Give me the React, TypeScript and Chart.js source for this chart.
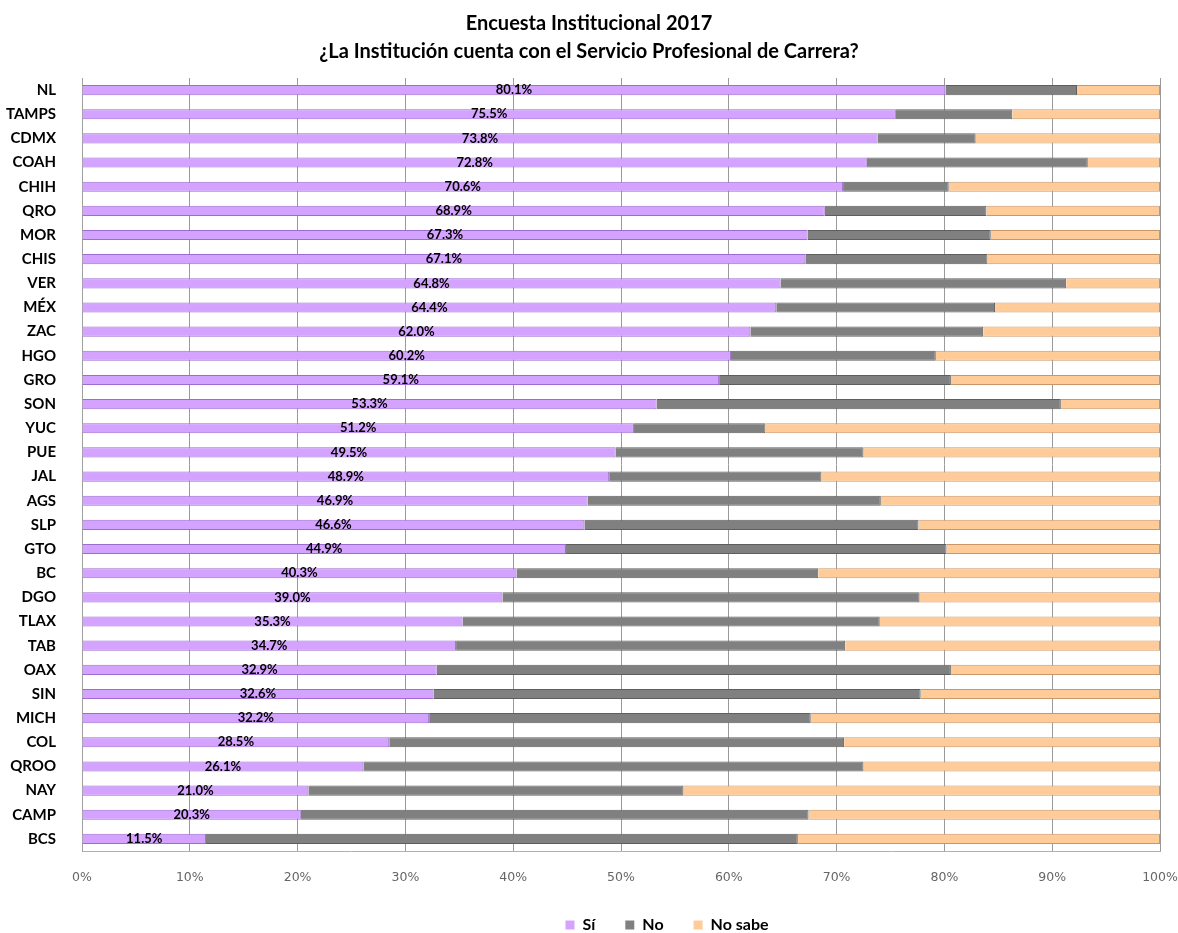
import React, { useEffect, useRef } from "react";
import { Chart, registerables } from "chart.js";

Chart.register(...registerables);

const titleLines = ["Encuesta Institucional 2017", "¿La Institución cuenta con el Servicio Profesional de Carrera?"];

const states = [
  "NL", "TAMPS", "CDMX", "COAH", "CHIH", "QRO", "MOR", "CHIS", "VER", "MÉX", "ZAC",
  "HGO", "GRO", "SON", "YUC", "PUE", "JAL", "AGS", "SLP", "GTO", "BC", "DGO",
  "TLAX", "TAB", "OAX", "SIN", "MICH", "COL", "QROO", "NAY", "CAMP", "BCS",
];

const si = [
  80.1, 75.5, 73.8, 72.8, 70.6, 68.9, 67.3, 67.1, 64.8, 64.4, 62.0,
  60.2, 59.1, 53.3, 51.2, 49.5, 48.9, 46.9, 46.6, 44.9, 40.3, 39.0,
  35.3, 34.7, 32.9, 32.6, 32.2, 28.5, 26.1, 21.0, 20.3, 11.5,
];

const no = [
  12.2, 10.8, 9.1, 20.5, 9.8, 15.0, 17.0, 16.9, 26.5, 20.3, 21.6,
  19.0, 21.5, 37.5, 12.2, 23.0, 19.7, 27.2, 31.0, 35.3, 28.0, 38.7,
  38.7, 36.1, 47.7, 45.2, 35.4, 42.2, 46.4, 34.8, 47.1, 54.9,
];

const noSabe = [
  7.7, 13.7, 17.1, 6.7, 19.6, 16.1, 15.7, 16.0, 8.7, 15.3, 16.4,
  20.8, 19.4, 9.2, 36.6, 27.5, 31.4, 25.9, 22.4, 19.8, 31.7, 22.3,
  26.0, 29.2, 19.4, 22.2, 32.4, 29.3, 27.5, 44.2, 32.6, 33.6,
];

const seriesNames = ["Sí", "No", "No sabe"];
const xTicks = [0, 10, 20, 30, 40, 50, 60, 70, 80, 90, 100];

const LABEL_FONT = "Lato, 'Open Sans', sans-serif";

const siLabels = {
  id: "siLabels",
  afterDatasetsDraw(chart: any) {
    const ctx = chart.ctx;
    const meta = chart.getDatasetMeta(0);
    ctx.save();
    ctx.font = `bold 13px ${LABEL_FONT}`;
    ctx.fillStyle = "#000";
    ctx.textAlign = "center";
    ctx.textBaseline = "middle";
    meta.data.forEach((bar: any, i: number) => {
      const cx = (bar.x + bar.base) / 2;
      ctx.fillText(si[i].toFixed(1) + "%", cx, bar.y);
    });
    ctx.restore();
  },
};

const legendShift = {
  id: "legendShift",
  afterLayout(chart: any) {
    const l = chart.legend;
    if (l) {
      l.left += 46;
      l.right += 46;
    }
  },
};

export default function App() {
  const ref = useRef<HTMLCanvasElement | null>(null);
  useEffect(() => {
    document.body.style.margin = "0";
    const canvas = ref.current;
    if (!canvas) return;
    const chart = new Chart(canvas, {
      type: "bar",
      data: {
        labels: states,
        datasets: [
          { label: seriesNames[0], data: si, backgroundColor: "#D4A2FF", borderColor: "#9E6BD0", borderWidth: 1 },
          { label: seriesNames[1], data: no, backgroundColor: "#808080", borderColor: "#5E5E5E", borderWidth: 1 },
          { label: seriesNames[2], data: noSabe, backgroundColor: "#FFCC99", borderColor: "#C9976A", borderWidth: 1 },
        ],
      },
      options: {
        indexAxis: "y",
        responsive: false,
        animation: false,
        maintainAspectRatio: false,
        datasets: { bar: { barPercentage: 0.42, categoryPercentage: 1 } },
        layout: { padding: { left: 0, right: 0, top: 2, bottom: -10 } },
        plugins: {
          tooltip: { enabled: false },
          title: {
            display: true,
            text: titleLines,
            color: "#000",
            font: { family: LABEL_FONT, size: 20, weight: "bold", lineHeight: 1.4 },
            padding: { top: 8, bottom: 12 },
          },
          legend: {
            position: "bottom",
            fullSize: false,
            labels: {
              boxWidth: 9,
              boxHeight: 9,
              padding: 30,
              color: "#000",
              font: { family: LABEL_FONT, size: 16, weight: "bold" },
              generateLabels: (c: any) =>
                (Chart.defaults.plugins.legend.labels as any).generateLabels(c).map((l: any) => ({ ...l, lineWidth: 0 })),
            },
          },
        },
        scales: {
          x: {
            stacked: true,
            min: 0,
            max: 100,
            afterBuildTicks: (s: any) => {
              s.ticks = xTicks.map((v) => ({ value: v }));
            },
            afterFit: (s: any) => {
              s.height = 36;
              s.paddingRight = 18;
              s.paddingLeft = 0;
            },
            grid: { color: "#9a9a9a", drawTicks: false },
            border: { display: true, color: "#b0b0b0" },
            ticks: {
              padding: 19,
              color: "#666",
              font: { family: "'DejaVu Sans', Verdana, sans-serif", size: 12.5 },
              callback: (v: any) => v + "%",
            },
          },
          y: {
            stacked: true,
            afterFit: (s: any) => {
              s.width = 82;
            },
            grid: { display: false },
            border: { display: true, color: "#a0a0a0" },
            ticks: {
              padding: 18,
              color: "#000",
              font: { family: LABEL_FONT, size: 15, weight: "bold" },
            },
          },
        },
      },
      plugins: [siLabels, legendShift],
    });
    return () => chart.destroy();
  }, []);
  return (
    <div style={{ width: 1178, height: 933 }}>
      <canvas ref={ref} width={1178} height={933} style={{ display: "block" }} />
    </div>
  );
}
